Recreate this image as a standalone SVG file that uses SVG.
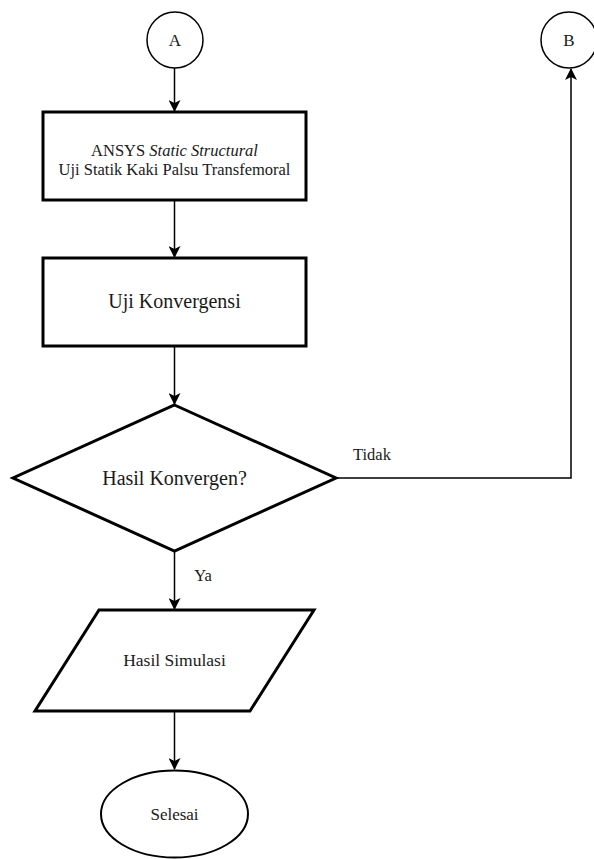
<svg xmlns="http://www.w3.org/2000/svg" width="594" height="859" viewBox="0 0 594 859">
<style>
text{font-family:"Liberation Serif","Times New Roman",serif;fill:#1a1a1a;text-anchor:middle}
.shape{fill:#fff;stroke:#000}
.conn{fill:none;stroke:#000;stroke-width:1.5}
</style>
<defs>
<marker id="arr" viewBox="0 0 12 12" refX="11" refY="6" markerWidth="12" markerHeight="12" markerUnits="userSpaceOnUse" orient="auto">
<path d="M0,0 L12,6 L0,12 L3,6 z" fill="#000"/>
</marker>
</defs>
<rect width="594" height="859" fill="#fff"/>
<g id="connectors">
<line class="conn" x1="174.5" y1="68" x2="174.5" y2="111" marker-end="url(#arr)"/>
<line class="conn" x1="174.5" y1="200" x2="174.5" y2="257" marker-end="url(#arr)"/>
<line class="conn" x1="174.5" y1="346" x2="174.5" y2="404" marker-end="url(#arr)"/>
<line class="conn" x1="174.5" y1="551" x2="174.5" y2="609" marker-end="url(#arr)"/>
<line class="conn" x1="174.5" y1="711" x2="174.5" y2="769" marker-end="url(#arr)"/>
<polyline class="conn" points="336,478 571,478 571,69" marker-end="url(#arr)"/>
<text x="372" y="460" font-size="16.5">Tidak</text>
<text x="203" y="581" font-size="16.5">Ya</text>
</g>
<g id="nodeA">
<circle class="shape" cx="175" cy="40" r="28" stroke-width="1.5"/>
<text x="175" y="46" font-size="17">A</text>
</g>
<g id="nodeB">
<circle class="shape" cx="569" cy="40" r="28" stroke-width="1.5"/>
<text x="569" y="46" font-size="17">B</text>
</g>
<g id="node1">
<rect class="shape" x="43" y="112" width="263" height="88" stroke-width="3"/>
<text x="174.5" y="156" font-size="16.5">ANSYS <tspan font-style="italic">Static Structural</tspan></text>
<text x="174.5" y="175" font-size="16.5">Uji Statik Kaki Palsu Transfemoral</text>
</g>
<g id="node2">
<rect class="shape" x="43" y="258" width="263" height="88" stroke-width="3"/>
<text x="174.5" y="308" font-size="20">Uji Konvergensi</text>
</g>
<g id="decision">
<polygon class="shape" points="174.5,405 336,478 174.5,551 13,478" stroke-width="3"/>
<text x="174.5" y="485" font-size="20">Hasil Konvergen?</text>
</g>
<g id="output">
<polygon class="shape" points="99,610 314,610 250,711 35,711" stroke-width="3"/>
<text x="174.5" y="666" font-size="17.5">Hasil Simulasi</text>
</g>
<g id="end">
<ellipse class="shape" cx="174.5" cy="814" rx="73.5" ry="43.5" stroke-width="2"/>
<text x="174.5" y="820" font-size="17">Selesai</text>
</g>
</svg>
